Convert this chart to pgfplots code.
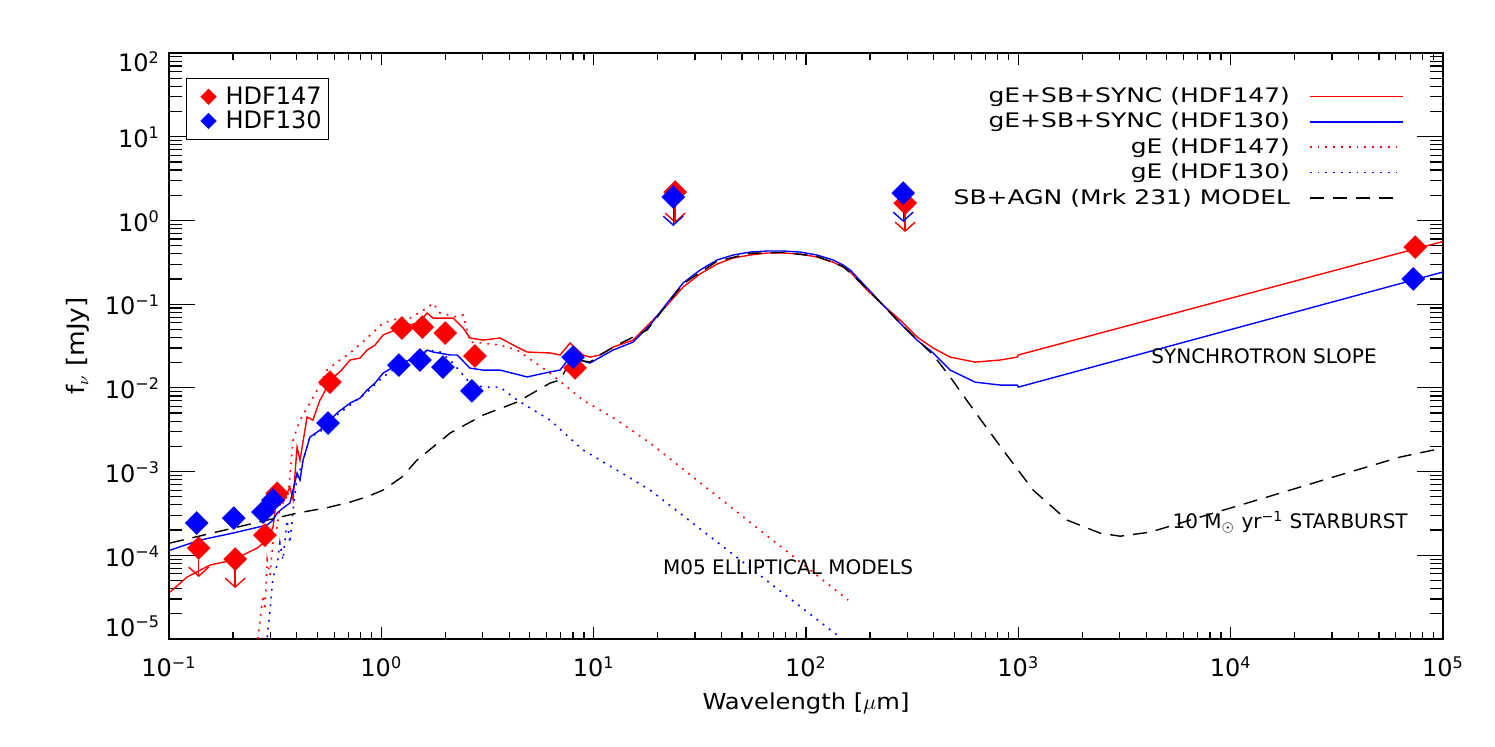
\documentclass[border=0pt]{standalone}
\usepackage{fontspec}
\setmainfont{DejaVu Sans}
\newfontfamily\legfont[FakeStretch=1.25]{DejaVu Sans}
\newfontfamily\labfont[FakeStretch=1.1]{DejaVu Sans}
\usepackage{pgfplots}
\pgfplotsset{compat=1.18}
\usetikzlibrary{arrows.meta}

\pgfplotsset{
  diam/.style={only marks, mark=square*, mark size=4.1pt,
               mark options={rotate=45, solid, fill=#1, draw=#1, line width=0.1pt}},
  ulim/.style={only marks, mark=none, forget plot,
               error bars/y dir=minus, error bars/y explicit,
               error bars/error mark=none,
               error bars/error bar style={line width=0.7pt, #1,
                 arrows={-Straight Barb[length=4.5pt,width=10pt]}}},
  sedln/.style={line width=0.7pt},
  sedot/.style={line width=0.8pt, dash pattern=on 0.9pt off 3pt},
  sedsh/.style={line width=0.7pt, dash pattern=on 7pt off 4.5pt},
  longleg/.style={legend image code/.code={\draw[##1] (0pt,0pt) -- (46.5pt,0pt);}},
  shortleg/.style={legend image code/.code={\draw[##1] (0pt,0pt) -- (41.5pt,0pt);}},
  dleg/.style={legend image code/.code={\path[draw=none] (0pt,0pt) -- (15pt,0pt);
               \draw[##1] plot coordinates {(8pt,0pt)};}},
}

\begin{document}
\begin{tikzpicture}
% main axis: data, y ticks, right legend
\begin{axis}[
  name=ax,
  scale only axis, width=637pt, height=293pt,
  xmode=log, ymode=log,
  xmin=0.1, xmax=1e5, ymin=1e-5, ymax=100,
  axis line style={line width=0.8pt},
  every tick/.style={black, line width=0.6pt},
  major tick length=13pt, minor tick length=6.5pt,
  xtick=\empty,
  ytick={1e-5,1e-4,1e-3,1e-2,1e-1,1,10,100},
  yticklabels={\raisebox{6.75pt}{10\textsuperscript{−5}},10\textsuperscript{−4},10\textsuperscript{−3},10\textsuperscript{−2},10\textsuperscript{−1},10\textsuperscript{0},10\textsuperscript{1},\raisebox{-4pt}{10\textsuperscript{2}}},
  minor ytick={2e-5,3e-5,4e-5,5e-5,6e-5,7e-5,8e-5,9e-5,2e-4,3e-4,4e-4,5e-4,6e-4,7e-4,8e-4,9e-4,2e-3,3e-3,4e-3,5e-3,6e-3,7e-3,8e-3,9e-3,0.02,0.03,0.04,0.05,0.06,0.07,0.08,0.09,0.2,0.3,0.4,0.5,0.6,0.7,0.8,0.9,2,3,4,5,6,7,8,9,20,30,40,50,60,70,80,90},
  tick label style={font=\fontsize{12}{12}\selectfont},
  yticklabel style={anchor=base east, xshift=-1pt, yshift=-5.4pt},
  xlabel={\labfont Wavelength [$\mu$m]},
  xlabel style={at={(axis description cs:0.5,0)}, anchor=base, yshift=-35.5pt, font=\fontsize{11}{11}\selectfont},
  ylabel={\labfont f\textsubscript{$\nu$} [mJy]},
  ylabel style={at={(axis description cs:-0.0714,0.5)}, anchor=center, font=\fontsize{12}{12}\selectfont},
  legend style={at={(0.9694,0.942)}, anchor=north east, draw=none, fill=none,
                inner sep=0pt, font=\legfont\fontsize{10}{10}\selectfont,
                nodes={inner sep=0pt}, row sep=3.6pt, column sep=9.5pt},
  legend cell align=right, legend plot pos=right,
  longleg,
]

% gE+SB+SYNC (HDF147)
\addplot[sedln, red] coordinates {
(0.1011,3.63e-5) (0.1216,5.49e-5) (0.156,7.64e-5) (0.200,8.77e-5) (0.260,1.22e-4)
(0.290,1.52e-4) (0.309,2.17e-4) (0.323,5.53e-4) (0.344,4.21e-4) (0.371,6.53e-4)
(0.384,4.6e-4) (0.401,1.96e-3) (0.414,1.37e-3) (0.447,4.48e-3) (0.476,4.12e-3)
(0.514,7.15e-3) (0.531,8.2e-3) (0.573,1.24e-2) (0.638,1.55e-2) (0.713,2.15e-2)
(0.794,2.27e-2) (0.857,2.83e-2) (0.934,3.24e-2) (1.019,4.28e-2) (1.225,5.18e-2)
(1.366,5.62e-2) (1.522,6.11e-2) (1.641,7.83e-2) (1.752,6.82e-2) (1.892,6.82e-2)
(2.18,6.82e-2) (2.428,5.18e-2) (2.617,3.94e-2) (3.015,3.72e-2) (3.625,3.94e-2)
(4.359,3.07e-2) (4.857,2.68e-2) (6.234,2.61e-2) (6.947,2.47e-2) (7.745,3.43e-2)
(8.91,2.47e-2) (9.61,2.33e-2) (10.71,2.47e-2) (12.34,3.07e-2) (15.34,3.72e-2)
(18.45,5.94e-2) (22.18,9.75e-2) (26.38,0.160) (31.69,0.229) (38.11,0.301)
(45.36,0.356) (54.56,0.386) (65.6,0.408) (77.98,0.408) (93.8,0.397)
(112.7,0.365) (134.1,0.318) (149.6,0.277) (161.6,0.242) (194.1,0.147)
(230.7,0.0975) (277.3,0.0646) (333.4,0.0405) (397.1,0.0299) (477.5,0.0233)
(626,0.0203) (821,0.0215) (990,0.0233) (1000,0.0247) (1e5,0.56)
};
\addlegendentry{gE+SB+SYNC (HDF147)}

% gE+SB+SYNC (HDF130)
\addplot[sedln, blue] coordinates {
(0.1011,1.15e-4) (0.140,1.52e-4) (0.200,1.84e-4) (0.290,2.30e-4) (0.309,2.63e-4)
(0.323,3.19e-4) (0.344,3.66e-4) (0.371,4.21e-4) (0.384,6.01e-4) (0.401,9.6e-4)
(0.414,7.9e-4) (0.428,1.37e-3) (0.461,2.58e-3) (0.514,3.13e-3) (0.573,4.12e-3)
(0.618,5.0e-3) (0.713,6.58e-3) (0.794,7.55e-3) (0.857,9.42e-3) (0.934,1.14e-2)
(1.019,1.50e-2) (1.225,1.98e-2) (1.366,2.15e-2) (1.522,2.33e-2) (1.641,2.83e-2)
(1.752,2.68e-2) (2.107,2.47e-2) (2.274,2.47e-2) (2.617,1.72e-2) (3.015,1.63e-2)
(3.625,1.63e-2) (4.857,1.35e-2) (6.234,1.55e-2) (6.947,1.63e-2) (7.745,2.33e-2)
(8.91,2.09e-2) (9.61,1.98e-2) (12.34,2.83e-2) (15.34,3.52e-2) (18.45,5.62e-2)
(22.18,0.103) (26.38,0.179) (31.69,0.255) (38.11,0.337) (45.36,0.386)
(54.56,0.419) (65.6,0.431) (77.98,0.431) (93.8,0.419) (112.7,0.386)
(134.1,0.337) (149.6,0.293) (161.6,0.255) (194.1,0.156) (230.7,0.0975)
(277.3,0.0594) (333.4,0.0372) (397.1,0.0261) (477.5,0.0163) (626,0.0117)
(821,0.0108) (990,0.0108) (1000,0.0102) (1e5,0.242)
};
\addlegendentry{gE+SB+SYNC (HDF130)}

% gE (HDF147)
\addplot[sedot, red] coordinates {
(0.262,1.0e-5) (0.2686,1.68e-5) (0.2773,3.34e-5) (0.283,2.21e-5) (0.290,8.77e-5)
(0.299,5.8e-5) (0.309,1.52e-4) (0.323,2.17e-4) (0.333,3.98e-4) (0.344,6.01e-4)
(0.360,4.6e-4) (0.371,8.6e-4) (0.384,2.38e-3) (0.414,4.12e-3) (0.461,6.58e-3)
(0.514,1.08e-2) (0.555,1.63e-2) (0.638,2.15e-2) (0.713,2.61e-2) (0.857,3.94e-2)
(1.019,5.94e-2) (1.225,6.82e-2) (1.366,6.82e-2) (1.641,8.98e-2) (1.752,0.103)
(1.892,7.83e-2) (2.274,7.01e-2) (2.428,7.41e-2) (2.617,3.52e-2) (3.015,3.43e-2)
(3.625,3.24e-2) (4.359,2.83e-2) (6.234,1.50e-2) (8.91,7.15e-3) (12.88,4.12e-3)
(18.45,2.19e-3) (157.9,2.92e-5)
};
\addlegendentry{gE (HDF147)}

% gE (HDF130)
\addplot[sedot, blue] coordinates {
(0.290,1.05e-5) (0.299,2.21e-5) (0.309,5.49e-5) (0.323,7.64e-5) (0.333,1.40e-4)
(0.344,8.77e-5) (0.360,2.63e-4) (0.371,1.40e-4) (0.384,3.47e-4) (0.401,8.6e-4)
(0.414,1.04e-3) (0.428,1.37e-3) (0.461,2.58e-3) (0.514,2.96e-3) (0.573,4.12e-3)
(0.713,6.23e-3) (0.857,8.9e-3) (1.019,1.35e-2) (1.225,1.87e-2) (1.522,2.27e-2)
(1.641,2.83e-2) (1.892,2.68e-2) (2.107,2.15e-2) (2.617,1.14e-2) (3.015,1.02e-2)
(3.625,1.02e-2) (4.359,7.15e-3) (6.234,4.12e-3) (8.91,1.81e-3) (12.88,1.04e-3)
(18.45,6.01e-4) (141.6,1.09e-5)
};
\addlegendentry{gE (HDF130)}

% SB+AGN (Mrk 231) model
\addplot[sedsh, black, shortleg] coordinates {
(0.1011,1.40e-4) (0.200,2.11e-4) (0.401,3.19e-4) (0.555,3.7e-4) (0.713,4.32e-4)
(0.857,5.0e-4) (1.019,6.01e-4) (1.25,8.6e-4) (1.472,1.37e-3) (2.107,2.88e-3)
(3.015,4.73e-3) (4.359,6.76e-3) (6.234,1.14e-2) (6.947,1.24e-2) (7.499,1.77e-2)
(8.5,2.15e-2) (9.61,2.03e-2) (10.71,2.47e-2) (12.88,3.24e-2) (17.86,4.91e-2)
(26.38,0.175) (38.11,0.325) (54.56,0.405) (77.98,0.415) (112.7,0.372)
(149.6,0.282) (194.1,0.153) (277.3,0.0594) (397.1,0.0247) (477.5,0.0135)
(626,5.14e-3) (847,1.81e-3) (1174,6.01e-4) (1698,2.63e-4) (2427,1.84e-4)
(3017,1.69e-4) (4178,1.89e-4) (7182,2.86e-4) (14860,4.96e-4) (30400,8.6e-4)
(62800,1.49e-3) (1e5,1.91e-3)
};
\addlegendentry{SB+AGN (Mrk 231) MODEL}

% HDF147 photometry
\addplot[ulim=red] coordinates {
(0.138,1.22e-4) -= (0,6.71e-5)
(0.205,9.0e-5) -= (0,4.94e-5)
(24.2,2.18) -= (0,1.249)
(293,1.61) -= (0,0.884)
};
\addplot[diam=red, forget plot] coordinates {
(0.138,1.22e-4) (0.205,9.0e-5) (0.283,1.74e-4) (0.323,5.5e-4) (0.573,1.17e-2)
(1.25,0.0518) (1.56,0.0532) (2.0,0.0452) (2.76,0.024) (8.17,0.0173)
(24.2,2.18) (293,1.61) (74000,0.48)
};

% HDF130 photometry
\addplot[ulim=blue] coordinates {
(23.7,1.9) -= (0,1.043)
(287,2.12) -= (0,1.163)
};
\addplot[diam=blue, forget plot] coordinates {
(0.135,2.43e-4) (0.202,2.78e-4) (0.277,3.28e-4) (0.309,4.57e-4) (0.561,3.8e-3)
(1.21,0.0187) (1.52,0.0215) (1.95,0.0177) (2.67,9.2e-3) (8.0,0.0233)
(23.7,1.9) (287,2.12) (72400,0.2)
};

\node[font=\fontsize{10}{10}\selectfont] at (rel axis cs:0.486,0.123) {M05 ELLIPTICAL MODELS};
\node[font=\fontsize{10}{10}\selectfont] at (rel axis cs:0.8595,0.483) {SYNCHROTRON SLOPE};
\node[font=\fontsize{10}{10}\selectfont] at (rel axis cs:0.880,0.1997) {10 M$_\odot$ yr\textsuperscript{−1} STARBURST};
\end{axis}

% overlay axis: x ticks (shorter) and the photometry legend
\begin{axis}[
  at={(ax.south west)}, anchor=south west,
  scale only axis, width=637pt, height=293pt,
  xmode=log, xmin=0.1, xmax=1e5, ymin=0, ymax=1,
  axis line style={draw=none},
  ytick=\empty,
  every tick/.style={black, line width=0.6pt},
  major tick length=6pt, minor tick length=3.5pt,
  xtick={0.1,1,10,100,1000,10000,100000},
  xticklabels={10\textsuperscript{−1},10\textsuperscript{0},10\textsuperscript{1},10\textsuperscript{2},10\textsuperscript{3},10\textsuperscript{4},10\textsuperscript{5}},
  minor xtick={0.2,0.3,0.4,0.5,0.6,0.7,0.8,0.9,2,3,4,5,6,7,8,9,20,30,40,50,60,70,80,90,200,300,400,500,600,700,800,900,2000,3000,4000,5000,6000,7000,8000,9000,20000,30000,40000,50000,60000,70000,80000,90000},
  tick label style={font=\fontsize{12}{12}\selectfont},
  xticklabel style={anchor=base, yshift=-19pt},
  legend style={at={(0.0133,0.957)}, anchor=north west, draw=black, line width=0.6pt,
                fill=white, font=\fontsize{12}{12}\selectfont,
                inner xsep=3pt, inner ysep=3.4pt, nodes={inner sep=0.5pt},
                row sep=0.75pt, column sep=1pt},
  legend cell align=left,
]
\addlegendimage{dleg, only marks, mark=square*, mark size=2.8pt, mark options={rotate=45, solid, fill=red, draw=red, line width=0.1pt}}
\addlegendentry{HDF147}
\addlegendimage{dleg, only marks, mark=square*, mark size=2.8pt, mark options={rotate=45, solid, fill=blue, draw=blue, line width=0.1pt}}
\addlegendentry{HDF130}
\end{axis}

\pgfresetboundingbox
\path[use as bounding box] ([shift={(-84.5pt,-54pt)}]ax.south west) rectangle ++(747.5pt,373.5pt);
\end{tikzpicture}
\end{document}
